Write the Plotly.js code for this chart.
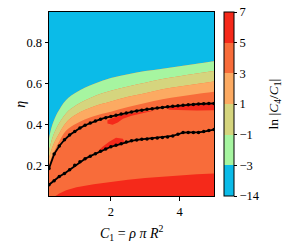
<!DOCTYPE html>
<html><head><meta charset="utf-8">
<script src="https://cdn.plot.ly/plotly-3.0.1.min.js"></script>
<style>html,body{margin:0;padding:0;background:#fff}#chart{width:291px;height:245px}</style>
</head><body><div id="chart"></div>
<script>
// level boundaries (eta vs C1)
const bandX = [0.2, 0.25, 0.3, 0.45, 0.7, 1.0, 1.5, 2.0, 2.5, 3.0, 3.5, 4.0, 4.5, 5.0];
const levM3 = [0.33, 0.37, 0.40, 0.458, 0.52, 0.558, 0.598, 0.627, 0.646, 0.661, 0.673, 0.685, 0.697, 0.709];
const levM1 = [0.27, 0.305, 0.335, 0.392, 0.455, 0.495, 0.537, 0.565, 0.586, 0.604, 0.622, 0.636, 0.649, 0.661];
const lev1  = [0.235, 0.265, 0.29, 0.342, 0.41, 0.45, 0.488, 0.512, 0.535, 0.553, 0.572, 0.586, 0.598, 0.61];
const lev3  = [0.20, 0.228, 0.25, 0.302, 0.37, 0.405, 0.44, 0.462, 0.485, 0.505, 0.523, 0.537, 0.549, 0.56];
const topEta = [1.2, 1.2, 1.2, 1.2, 1.2, 1.2, 1.2, 1.2, 1.2, 1.2, 1.2, 1.2, 1.2, 1.2];
const lev5X = [0.2, 0.38, 0.5, 0.7, 1.0, 1.5, 2.0, 2.5, 3.0, 3.5, 4.0, 4.5, 5.0];
const lev5  = [0.03, 0.05, 0.062, 0.078, 0.093, 0.108, 0.12, 0.13, 0.138, 0.145, 0.151, 0.156, 0.16];

// small red (5..7) patches
const blobAx = [1.9, 2.05, 2.3, 2.6, 2.9, 3.3, 2.9, 2.6, 2.35, 2.2, 2.05, 1.9];
const blobAy = [0.42, 0.432, 0.445, 0.455, 0.462, 0.47, 0.455, 0.443, 0.428, 0.41, 0.398, 0.405];
const blobBx = [3.6, 4.0, 4.5, 5.0, 5.0, 4.5, 4.0, 3.7];
const blobBy = [0.482, 0.489, 0.497, 0.502, 0.47, 0.468, 0.47, 0.472];
const blobCx = [1.55, 1.8, 2.0, 2.2, 2.4, 2.35, 2.15, 1.95, 1.75];
const blobCy = [0.256, 0.278, 0.291, 0.301, 0.312, 0.33, 0.335, 0.315, 0.29];

// black curves
const lineX = [0.2, 0.35, 0.5, 0.65, 0.8, 0.95, 1.1, 1.25, 1.4, 1.55, 1.7, 1.85, 2.0, 2.15, 2.3, 2.45, 2.6, 2.75, 2.9, 3.05, 3.2, 3.35, 3.5, 3.65, 3.8, 3.95, 4.1, 4.25, 4.4, 4.55, 4.7, 4.85, 5.0];
const upperEta = [0.185, 0.255, 0.295, 0.325, 0.348, 0.366, 0.382, 0.396, 0.407, 0.417, 0.426, 0.433, 0.439, 0.445, 0.451, 0.456, 0.461, 0.466, 0.470, 0.474, 0.477, 0.480, 0.483, 0.486, 0.489, 0.491, 0.494, 0.496, 0.498, 0.500, 0.501, 0.502, 0.503];
const lowerEta = [0.105, 0.125, 0.145, 0.16, 0.178, 0.2, 0.217, 0.232, 0.245, 0.257, 0.269, 0.28, 0.291, 0.298, 0.306, 0.314, 0.320, 0.324, 0.327, 0.329, 0.331, 0.334, 0.336, 0.339, 0.344, 0.352, 0.360, 0.361, 0.360, 0.361, 0.365, 0.370, 0.375];

// colour bar
const cbLevels = ['\u221214', '\u22123', '\u22121', '1', '3', '5', '7'];
const bandColors = ['#0BBBE8', '#A6F5A0', '#D5D57E', '#FCAA62', '#F86C3A', '#F5291A'];

const FONT = 'Liberation Serif, Times New Roman, serif';

function edge(ys, color, fill) {
  const t = {type: 'scatter', mode: 'lines', x: bandX, y: ys,
    line: {width: 0, color: color || '#000', shape: 'spline', smoothing: 1},
    hoverinfo: 'skip', showlegend: false};
  if (fill) { t.fill = 'tonexty'; t.fillcolor = color; }
  return t;
}
function poly(xs, ys, color) {
  return {type: 'scatter', mode: 'lines', x: xs, y: ys, fill: 'toself', fillcolor: color,
    line: {width: 0, color: color}, hoverinfo: 'skip', showlegend: false};
}

const cs = [];
bandColors.forEach((c, i) => { cs.push([i/6, c]); cs.push([(i+1)/6, c]); });

const traces = [
  poly(lev5X.concat([5, 0.2]), lev5.concat([0, 0]), bandColors[5]),
  edge(topEta, null, false),
  edge(levM3, bandColors[0], true),
  edge(levM1, bandColors[1], true),
  edge(lev1, bandColors[2], true),
  edge(lev3, bandColors[3], true),
  poly(blobAx, blobAy, bandColors[5]),
  poly(blobBx, blobBy, bandColors[5]),
  poly(blobCx, blobCy, bandColors[5]),
  {type: 'scatter', mode: 'lines+markers', x: lineX, y: upperEta,
   line: {color: '#000', width: 1.8}, marker: {color: '#000', size: 3.5}, hoverinfo: 'skip', showlegend: false},
  {type: 'scatter', mode: 'lines+markers', x: lineX, y: lowerEta,
   line: {color: '#000', width: 1.8}, marker: {color: '#000', size: 3.5}, hoverinfo: 'skip', showlegend: false},
  {type: 'scatter', mode: 'markers', x: [1], y: [0.5], hoverinfo: 'skip', showlegend: false,
   marker: {size: 1, opacity: 0, color: [0], cmin: 0, cmax: 6, colorscale: cs, showscale: true,
     colorbar: {x: 1.0606, xanchor: 'left', xpad: 0, ypad: 0, y: 0.5, yanchor: 'middle', len: 1,
       thickness: 10, outlinewidth: 1, outlinecolor: '#000', ticks: 'outside', ticklen: 3,
       tickcolor: '#000', tickvals: [0,1,2,3,4,5,6], ticktext: cbLevels,
       tickfont: {family: FONT, size: 12.5, color: '#000'}}}}
];

const layout = {
  width: 291, height: 245,
  margin: {l: 49, r: 77, t: 12, b: 49, pad: 0},
  paper_bgcolor: '#fff', plot_bgcolor: bandColors[4],
  font: {family: FONT, size: 12, color: '#000'},
  xaxis: {range: [0.2, 5], tickvals: [2, 4], ticks: 'outside', ticklen: 3.5, tickcolor: '#000',
    showline: true, mirror: true, linecolor: '#000', linewidth: 1, showgrid: false, zeroline: false,
    tickfont: {family: FONT, size: 12.5}},
  yaxis: {range: [0.05, 0.95], tickvals: [0.2, 0.4, 0.6, 0.8], ticks: 'outside', ticklen: 3.5, tickcolor: '#000',
    showline: true, mirror: true, linecolor: '#000', linewidth: 1, showgrid: false, zeroline: false,
    tickfont: {family: FONT, size: 12.5}},
  annotations: [
    {xref: 'paper', yref: 'paper', x: 0.5, y: -0.2, yanchor: 'middle', showarrow: false,
     text: '<i>C</i><sub>1</sub> = <i>ρ π R</i><sup>2</sup>', font: {family: FONT, size: 14}},
    {xref: 'paper', yref: 'paper', x: -0.235, y: 0.5, showarrow: false, textangle: -90,
     text: '<i>η</i>', font: {family: FONT, size: 14}},
    {xref: 'paper', yref: 'paper', x: 1.43, y: 0.5, showarrow: false, textangle: -90,
     text: 'ln |<i>C</i><sub>4</sub>/<i>C</i><sub>1</sub>|', font: {family: FONT, size: 13.5}}
  ]
};

Plotly.newPlot('chart', traces, layout, {staticPlot: true, displayModeBar: false});
</script>
</body></html>
